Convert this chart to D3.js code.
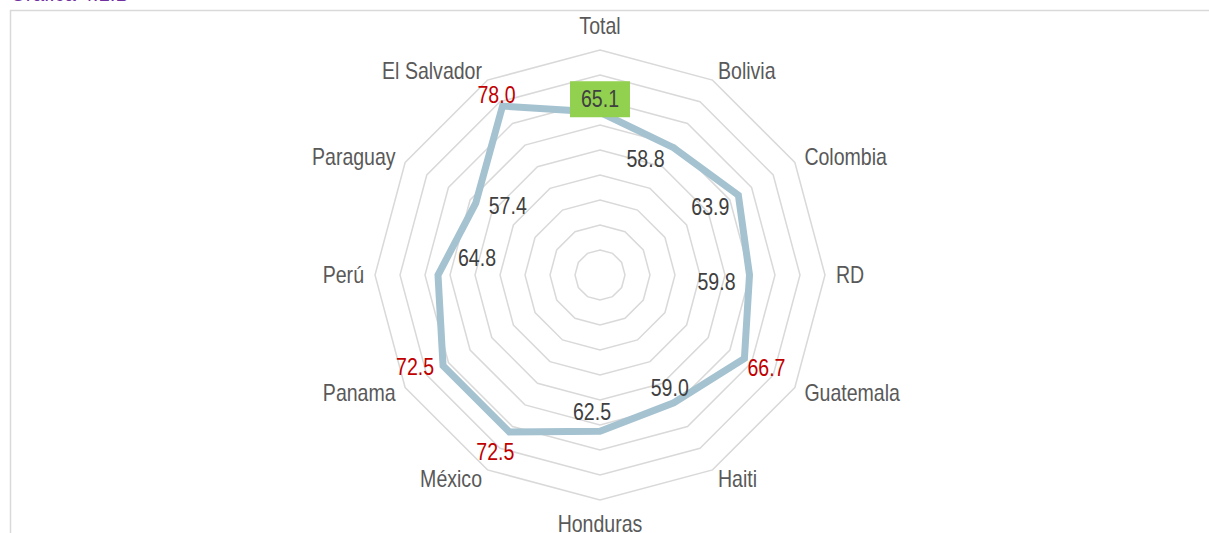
<!DOCTYPE html>
<html>
<head>
<meta charset="utf-8">
<script src="https://cdn.jsdelivr.net/npm/d3@7"></script>
<style>
  body { margin: 0; background: #fff; }
  svg text { font-family: "Liberation Sans", Arial, sans-serif; }
</style>
</head>
<body>
<div id="chart"></div>
<script>
  // data
  var countries = ["Total", "Bolivia", "Colombia", "RD", "Guatemala", "Haiti",
                   "Honduras", "México", "Panama", "Perú", "Paraguay", "El Salvador"];
  var values = [65.1, 58.8, 63.9, 59.8, 66.7, 59.0, 62.5, 72.5, 72.5, 64.8, 57.4, 78.0];
  var highlighted = ["Guatemala", "México", "Panama", "El Salvador"]; // red labels
  var ringTicks = [10, 20, 30, 40, 50, 60, 70, 80, 90];

  // label nudges (layout only)
  var labelShift = [[0, -13], [-28, 11], [-28, 12], [-33, 7], [22, 10], [-4, -15],
                    [-8, -19], [-14, 20], [-28, 1], [39, -17], [32, 3], [-6, -11]];

  var w = 1209, h = 533, cx = 600, cy = 275, R = 225;
  var narrow = 0.85; // the original font is a narrow face

  var svg = d3.select("#chart").append("svg")
      .attr("width", w).attr("height", h);

  // cut-off title at the top
  svg.append("text")
      .attr("transform", "translate(10,1) scale(" + narrow + ",1)")
      .style("font-size", "24px")
      .style("fill", "#7030A0")
      .text("Gráfica 4.1.B");

  // frame
  svg.append("rect")
      .attr("x", 10.5).attr("y", 10.5)
      .attr("width", w).attr("height", h)
      .style("fill", "none").style("stroke", "#D9D9D9").style("stroke-width", 1.5);

  var rScale = d3.scaleLinear().domain([0, 90]).range([0, R]);
  var aScale = d3.scaleLinear().domain([0, countries.length]).range([0, 2 * Math.PI]);

  var g = svg.append("g").attr("transform", "translate(" + cx + "," + cy + ")");

  function px(i, r) { return r * Math.sin(aScale(i)); }
  function py(i, r) { return -r * Math.cos(aScale(i)); }

  // rings
  var ring = d3.lineRadial()
      .angle(function(d, i) { return aScale(i); })
      .radius(function(d) { return d; })
      .curve(d3.curveLinearClosed);

  g.selectAll(".ring")
      .data(ringTicks)
      .enter()
      .append("path")
      .attr("class", "ring")
      .attr("d", function(t) { return ring(countries.map(function() { return rScale(t); })); })
      .style("fill", "none")
      .style("stroke", "#D9D9D9")
      .style("stroke-width", 1.5);

  // series line
  var line = d3.lineRadial()
      .angle(function(d, i) { return aScale(i); })
      .radius(function(d) { return rScale(d); })
      .curve(d3.curveLinearClosed);

  g.append("path")
      .attr("d", line(values))
      .style("fill", "none")
      .style("stroke", "#A5C2D0")
      .style("stroke-width", 7)
      .style("stroke-linejoin", "miter");

  // category labels
  g.selectAll(".cat")
      .data(countries)
      .enter()
      .append("text")
      .attr("class", "cat")
      .attr("transform", function(d, i) {
          var x = px(i, 236), y = py(i, 236);
          if (i === 0) y -= 13;
          if (i === 6) y += 13;
          return "translate(" + x + "," + y + ") scale(" + narrow + ",1)";
      })
      .attr("dy", "0.35em")
      .attr("text-anchor", function(d, i) {
          var s = Math.sin(aScale(i));
          return Math.abs(s) < 0.01 ? "middle" : (s > 0 ? "start" : "end");
      })
      .style("font-size", "23px")
      .style("fill", "#595959")
      .text(function(d) { return d; });

  // green box behind the total value
  var tx = px(0, rScale(values[0])) + labelShift[0][0];
  var ty = py(0, rScale(values[0])) + labelShift[0][1];
  g.append("rect")
      .attr("x", tx - 30).attr("y", ty - 18)
      .attr("width", 60).attr("height", 36)
      .style("fill", "#92D050");

  // value labels
  g.selectAll(".val")
      .data(values)
      .enter()
      .append("text")
      .attr("class", "val")
      .attr("transform", function(d, i) {
          var x = px(i, rScale(d)) + labelShift[i][0];
          var y = py(i, rScale(d)) + labelShift[i][1];
          return "translate(" + x + "," + y + ") scale(" + narrow + ",1)";
      })
      .attr("dy", "0.35em")
      .attr("text-anchor", "middle")
      .style("font-size", "23px")
      .style("fill", function(d, i) {
          return highlighted.indexOf(countries[i]) >= 0 ? "#C00000" : "#404040";
      })
      .text(function(d) { return d.toFixed(1); });
</script>
</body>
</html>
